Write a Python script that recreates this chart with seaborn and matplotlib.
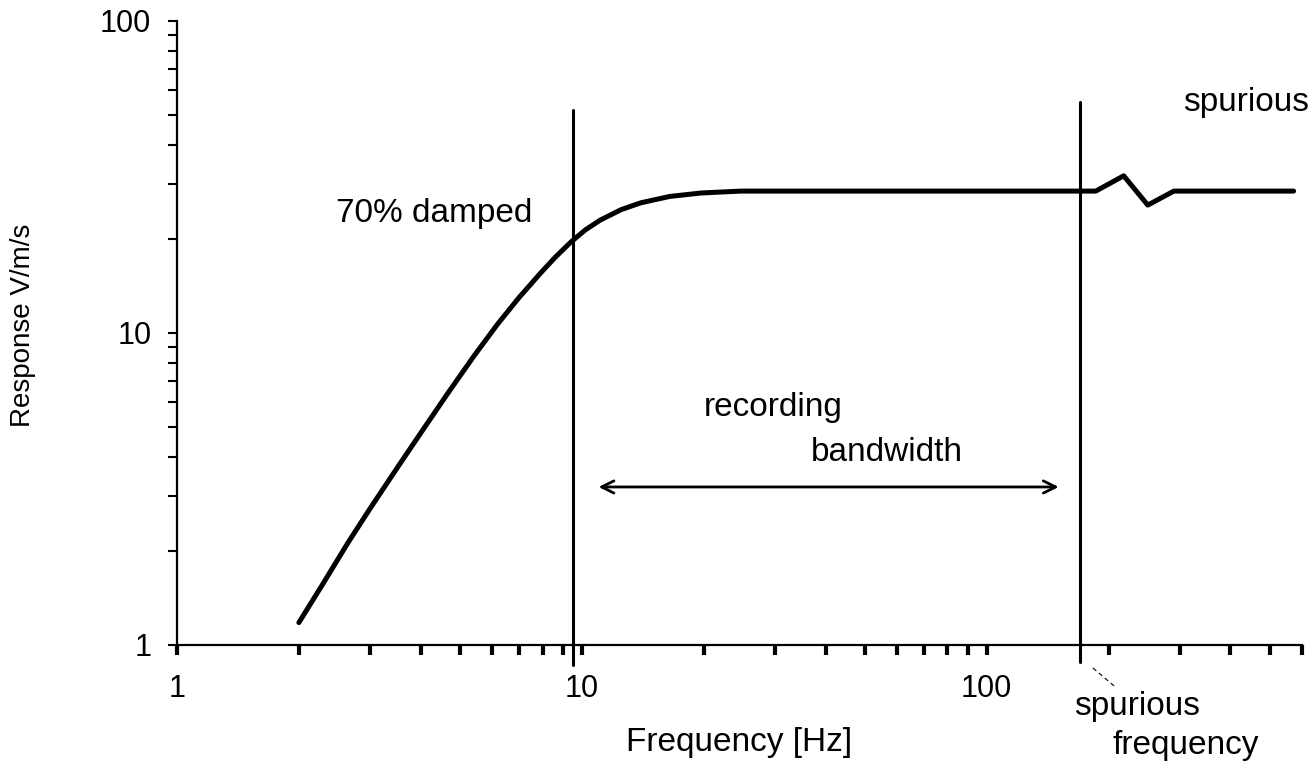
import numpy as np
import matplotlib
matplotlib.use("Agg")
import matplotlib.pyplot as plt
from matplotlib.ticker import LogLocator, NullFormatter
import seaborn as sns

# --- data ---
freq = [2.0, 2.3, 2.64, 3.0, 3.51, 4.0, 4.67, 5.4, 6.2, 7.0, 7.92, 8.6, 9.39,
        10.2, 11.1, 12.5, 14.0, 16.5, 19.7, 24.7, 35, 100, 170, 186,
        218, 250, 290, 573]
resp = [1.18, 1.58, 2.12, 2.74, 3.72, 4.78, 6.42, 8.40, 10.7, 13.0, 15.6, 17.5, 19.55,
        21.4, 23.0, 24.85, 26.15, 27.4, 28.1, 28.5, 28.5, 28.5, 28.5, 28.5,
        31.9, 25.7, 28.5, 28.5]

natural_freq = 9.5        # left vertical line
spurious_freq = 170       # right vertical line
vline_bottom = [0.863, 0.882]
vline_top = [51.9, 55.0]
band_lo, band_hi, band_y = 11.0, 150.6, 3.21

sns.set_theme(style="ticks")
plt.rcParams['font.family'] = ['Liberation Sans', 'DejaVu Sans']
plt.rcParams['text.color'] = 'black'
plt.rcParams['axes.labelcolor'] = 'black'
plt.rcParams['xtick.color'] = 'black'
plt.rcParams['ytick.color'] = 'black'

fig = plt.figure(figsize=(13.16, 7.65), dpi=100)
ax = fig.add_axes([177 / 1316, 120 / 765, 1125 / 1316, 624 / 765])

sns.lineplot(x=freq, y=resp, ax=ax, color="black", lw=3.6, sort=False,
             estimator=None, solid_joinstyle="round")

ax.set_xscale("log")
ax.set_yscale("log")
ax.set_xlim(1, 601)
ax.set_ylim(1, 100)

# vertical markers
for xv, yb, yt in zip([natural_freq, spurious_freq], vline_bottom, vline_top):
    ax.plot([xv, xv], [yb, yt], color="black", lw=2.2, clip_on=False)

# recording bandwidth arrow
ax.annotate("", xy=(band_hi, band_y), xytext=(band_lo, band_y),
            arrowprops=dict(arrowstyle="<->", lw=2, color="black",
                            mutation_scale=22, shrinkA=0, shrinkB=0))

fs = 24
ax.text(2.47, 24.2, "70% damped", fontsize=fs, va="center", ha="left")
ax.text(20.0, 5.79, "recording", fontsize=fs, va="center", ha="left")
ax.text(36.8, 4.15, "bandwidth", fontsize=fs, va="center", ha="left")
ax.text(305, 54.6, "spurious", fontsize=fs, va="center", ha="left")
ax.text(164, 0.633, "spurious", fontsize=fs, va="center", ha="left", clip_on=False)
ax.text(205, 0.478, "frequency", fontsize=fs, va="center", ha="left", clip_on=False)
# small dashed pointer
ax.plot([183, 208], [0.844, 0.733], color="black", lw=0.8, ls=(0, (4, 3)),
        clip_on=False)

# axes styling
for side in ["top", "right"]:
    ax.spines[side].set_visible(False)
for side in ["left", "bottom"]:
    ax.spines[side].set_linewidth(1.6)
    ax.spines[side].set_color("black")

ax.set_xticks([1, 10, 100], labels=["1", "10", "100"])
ax.set_yticks([1, 10, 100], labels=["1", "10", "100"])
ax.xaxis.set_minor_locator(LogLocator(base=10, subs=np.arange(2, 10)))
ax.yaxis.set_minor_locator(LogLocator(base=10, subs=np.arange(2, 10)))
ax.xaxis.set_minor_formatter(NullFormatter())
ax.yaxis.set_minor_formatter(NullFormatter())

ax.tick_params(axis="x", which="both", direction="out", length=7, width=3,
               color="black", labelsize=22, pad=14)
ax.tick_params(axis="y", which="both", direction="out", length=6.5, width=1.5,
               color="black", labelsize=22, pad=12)

ax.set_xlabel("Frequency [Hz]", fontsize=24, va="center")
ax.xaxis.set_label_coords(0.5, -0.157)
ax.set_ylabel("Response V/m/s", fontsize=20, va="center")
ax.yaxis.set_label_coords(-0.137, 0.513)

fig.savefig("out.png", dpi=100)
